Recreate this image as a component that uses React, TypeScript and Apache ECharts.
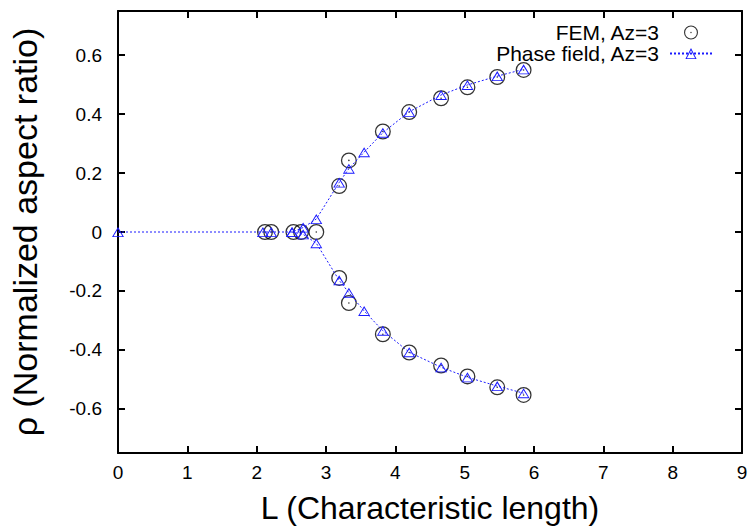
import React, { useEffect, useRef } from "react";
import * as echarts from "echarts";

// FEM results (Az=3)
const femZeroL = [2.12, 2.21, 2.53, 2.64, 2.86];
const femUpperL = [3.19, 3.33, 3.82, 4.2, 4.66, 5.04, 5.47, 5.85];
const femUpperRho = [0.156, 0.243, 0.341, 0.407, 0.454, 0.491, 0.526, 0.55];
const femLowerL = [3.19, 3.33, 3.82, 4.2, 4.66, 5.04, 5.47, 5.85];
const femLowerRho = [-0.156, -0.241, -0.347, -0.409, -0.453, -0.49, -0.527, -0.553];

// Phase field results (Az=3)
const pfUpperL = [0, 2.09, 2.21, 2.51, 2.67, 2.86, 3.19, 3.33, 3.55, 3.82, 4.2, 4.66, 5.04, 5.47, 5.85];
const pfUpperRho = [0, 0, 0, 0, 0.015, 0.044, 0.168, 0.215, 0.271, 0.337, 0.408, 0.465, 0.499, 0.529, 0.552];
const pfLowerL = [2.51, 2.67, 2.86, 3.19, 3.33, 3.55, 3.82, 4.2, 4.66, 5.04, 5.47, 5.85];
const pfLowerRho = [0, -0.008, -0.038, -0.164, -0.206, -0.268, -0.335, -0.408, -0.459, -0.493, -0.523, -0.547];

const yTicks = [-0.6, -0.4, -0.2, 0, 0.2, 0.4, 0.6];

const FONT = "'Liberation Sans', Arial, Helvetica, sans-serif";
const BLUE = "#1a1aff";

const circleDot =
  "path://M0,10 A10,10 0 1 1 20,10 A10,10 0 1 1 0,10 Z M1.6,10 A8.4,8.4 0 1 0 18.4,10 A8.4,8.4 0 1 0 1.6,10 Z M9,10 A1,1 0 1 1 11,10 A1,1 0 1 1 9,10 Z";
const triangleHollow =
  "path://M10,0 L20,17.3 L0,17.3 Z M10,3.6 L2.6,15.8 L17.4,15.8 Z";

const axisLine = { show: true, onZero: false, lineStyle: { color: "#000", width: 2 } };
const tickStyle = { color: "#000", width: 2 };

export default function App() {
  const ref = useRef<HTMLDivElement>(null);
  useEffect(() => {
    if (!ref.current) return;
    const chart = echarts.init(ref.current, undefined, { renderer: "svg" });
    const fem = [
      ...femZeroL.map((l) => [l, 0]),
      ...femUpperL.map((l, i) => [l, femUpperRho[i]]),
      ...femLowerL.map((l, i) => [l, femLowerRho[i]]),
    ];
    const pfUp = pfUpperL.map((l, i) => [l, pfUpperRho[i]]);
    const pfLow = pfLowerL.map((l, i) => [l, pfLowerRho[i]]);
    const pfName = "Phase field, Az=3";
    const pfStyle = {
      type: "line" as const,
      name: pfName,
      symbol: triangleHollow,
      symbolSize: [12, 10],
      showSymbol: true,
      itemStyle: { color: BLUE },
      lineStyle: { color: BLUE, width: 1, type: [2, 2] },
      z: 3,
    };
    chart.setOption({
      animation: false,
      backgroundColor: "#ffffff",
      textStyle: { fontFamily: FONT },
      grid: { left: 116, right: 10, top: 11, bottom: 74 },
      legend: {
        orient: "vertical",
        right: 34,
        top: 17,
        align: "right",
        itemGap: 0,
        itemWidth: 42,
        itemHeight: 14,
        textStyle: { fontSize: 21, color: "#000", fontFamily: FONT, padding: [0, 6, 0, 0] },
        data: [{ name: "FEM, Az=3", icon: circleDot }, { name: pfName }],
      },
      xAxis: [
        {
          type: "value",
          min: 0,
          max: 9,
          interval: 1,
          name: "L (Characteristic length)",
          nameLocation: "middle",
          nameGap: 39,
          nameTextStyle: { fontSize: 32, color: "#000", fontFamily: FONT },
          axisLine,
          axisTick: { show: true, inside: true, length: 7, lineStyle: tickStyle },
          axisLabel: { color: "#000", fontSize: 19, margin: 10, fontFamily: FONT },
          splitLine: { show: false },
        },
        {
          type: "value",
          min: 0,
          max: 9,
          interval: 1,
          position: "top",
          axisLine,
          axisTick: { show: true, inside: true, length: 7, lineStyle: tickStyle },
          axisLabel: { show: false },
          splitLine: { show: false },
        },
      ],
      yAxis: [
        {
          type: "value",
          min: -0.75,
          max: 0.75,
          name: "ρ (Normalized aspect ratio)",
          nameLocation: "middle",
          nameGap: 76,
          nameRotate: 90,
          nameTextStyle: { fontSize: 34, color: "#000", fontFamily: FONT },
          axisLine,
          axisTick: { show: true, inside: true, length: 7, customValues: yTicks, lineStyle: tickStyle },
          axisLabel: {
            color: "#000",
            fontSize: 19,
            margin: 16,
            fontFamily: FONT,
            customValues: yTicks,
            formatter: (v: number) => (Math.abs(v) < 1e-9 ? "0" : String(Math.round(v * 10) / 10)),
          },
          splitLine: { show: false },
        },
        {
          type: "value",
          min: -0.75,
          max: 0.75,
          position: "right",
          axisLine,
          axisTick: { show: true, inside: true, length: 7, customValues: yTicks, lineStyle: tickStyle },
          axisLabel: { show: false, customValues: yTicks },
          splitLine: { show: false },
        },
      ],
      series: [
        {
          type: "scatter",
          name: "FEM, Az=3",
          data: fem,
          symbol: circleDot,
          symbolSize: 16,
          itemStyle: { color: "#000" },
          z: 2,
        },
        { ...pfStyle, data: pfUp },
        { ...pfStyle, data: pfLow },
      ],
    });
    return () => chart.dispose();
  }, []);
  return <div ref={ref} style={{ width: 752, height: 529, position: "absolute", left: 0, top: 0 }} />;
}
